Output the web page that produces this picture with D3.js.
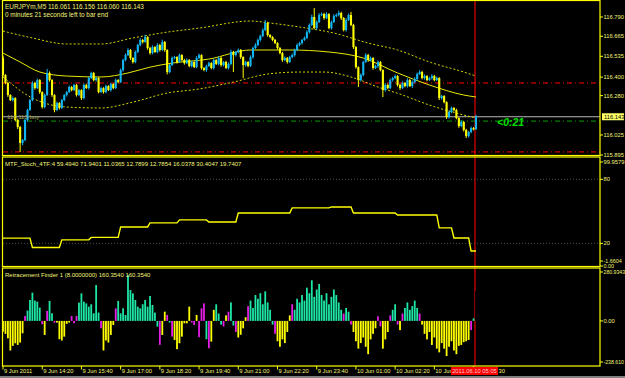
<!DOCTYPE html>
<html>
<head>
<meta charset="utf-8">
<script src="https://cdnjs.cloudflare.com/ajax/libs/d3/7.8.5/d3.min.js"></script>
<style>
  body { margin: 0; background: #808080; }
  svg { display: block; }
  text { font-family: 'Liberation Sans', Arial, sans-serif; }
</style>
</head>
<body>
<div id="chart"></div>
<script>
// EURJPYm M5 bars, 9 Jun 13:00 -> 10 Jun 05:05 (open of a bar = close of the previous one)
const firstOpen = 116.524;
const closes = [
  116.414,116.362,116.284,116.251,116.264,116.122,116.076,115.973,115.992,116.122,
  116.187,116.251,116.362,116.329,116.381,116.303,116.206,116.284,116.427,116.381,
  116.284,116.187,116.232,116.200,116.251,116.284,116.303,116.336,116.316,116.349,
  116.284,116.316,116.264,116.349,116.329,116.394,116.427,116.381,116.394,116.303,
  116.329,116.303,116.342,116.316,116.355,116.329,116.381,116.368,116.446,116.511,
  116.543,116.576,116.524,116.498,116.563,116.608,116.641,116.628,116.660,116.589,
  116.556,116.595,116.563,116.608,116.576,116.628,116.576,116.433,116.478,116.524,
  116.530,116.498,116.543,116.511,116.491,116.511,116.472,116.498,116.465,116.524,
  116.543,116.459,116.446,116.472,116.491,116.459,116.511,116.485,116.524,116.478,
  116.498,116.459,116.485,116.563,116.543,116.563,116.576,116.530,116.478,116.498,
  116.472,116.530,116.589,116.608,116.641,116.667,116.705,116.751,116.673,116.660,
  116.641,116.621,116.589,116.556,116.511,116.524,116.498,116.530,116.543,116.576,
  116.608,116.621,116.641,116.654,116.692,116.738,116.790,116.718,116.757,116.803,
  116.809,116.783,116.809,116.718,116.757,116.796,116.803,116.816,116.783,116.705,
  116.770,116.803,116.738,116.595,116.465,116.381,116.414,116.498,116.543,116.511,
  116.524,116.459,116.472,116.498,116.446,116.316,116.349,116.329,116.381,116.394,
  116.407,116.349,116.329,116.362,116.342,116.381,116.342,116.368,116.388,116.420,
  116.433,116.394,116.407,116.381,116.394,116.407,116.381,116.394,116.264,116.277,
  116.238,116.141,116.174,116.200,116.187,116.135,116.083,116.109,116.057,116.018,
  116.044,116.070,116.061,116.143
];
// wick lengths above / below the body, in 0.001 yen
const wickUp = [
  15,5,8,5,10,5,6,8,6,10, 8,6,12,8,10,6,5,8,26,10, 6,5,10,6,8,6,8,10,6,8,
  6,8,5,10,8,10,8,6,8,5, 8,6,10,6,8,5,10,6,10,8, 10,12,6,5,10,8,12,6,15,5,
  8,10,6,12,8,15,6,5,8,10, 8,6,10,6,8,10,6,8,5,12, 10,5,6,8,10,6,8,6,10,8,
  6,8,10,15,8,6,10,6,5,8, 6,10,8,12,10,8,12,20,8,6, 6,8,5,6,8,10,6,8,10,8,
  10,8,6,10,12,10,15,58,10,12, 10,8,12,6,10,12,10,15,8,6, 12,10,20,8,6,5,10,8,12,8,
  10,6,8,10,6,5,12,8,10,8, 10,6,8,10,6,12,8,10,12,10, 12,8,10,6,8,12,8,10,6,8,
  6,5,10,8,6,8,5,10,6,8, 8,10,6,13
];
const wickDn = [
  10,8,12,6,10,8,12,58,15,8, 10,6,8,10,6,12,10,8,6,10, 12,15,8,10,6,8,10,6,8,6,
  10,8,12,8,6,10,6,8,10,8, 6,10,8,6,10,8,6,8,6,10, 8,6,12,10,8,6,8,10,6,12,
  10,8,6,8,10,6,12,15,8,6, 8,10,6,8,10,6,8,10,6,8, 6,10,8,12,6,8,10,6,8,10,
  8,6,10,8,110,10,8,12,85,10, 8,6,10,8,6,10,8,6,10,8, 8,6,10,8,12,8,10,6,8,10,
  6,8,10,6,8,10,6,8,10,6, 8,10,6,8,10,6,8,10,12,8, 10,6,8,12,10,45,10,8,6,12,
  8,10,6,12,8,45,10,8,6,10, 8,10,12,6,8,10,6,12,8,10, 6,8,10,8,6,10,8,6,12,10,
  8,12,10,8,10,8,12,8,10,13, 10,8,6,1
];

// envelope around the moving average, sampled at bar indices
const bandBars  = [0, 7, 15, 26, 40, 51, 60, 69, 84, 101, 117, 133, 147, 161, 174, 188, 193];
const bandMid   = [116.556,116.498,116.433,116.407,116.401,116.427,116.465,116.491,116.517,116.576,116.576,116.563,116.524,116.427,116.349,116.284,116.271];
const upperBars = [0, 12, 26, 40, 53, 67, 80, 101, 109, 121, 135, 149, 161, 174, 188, 193];
const bandUpper = [116.699,116.654,116.615,116.615,116.654,116.692,116.718,116.764,116.751,116.725,116.686,116.621,116.576,116.498,116.433,116.407];
const lowerBars = [0, 12, 26, 40, 53, 67, 80, 94, 108, 121, 131, 142, 153, 162, 174, 188, 193];
const bandLower = [116.401,116.264,116.206,116.200,116.238,116.297,116.323,116.368,116.420,116.433,116.433,116.401,116.336,116.290,116.219,116.154,116.135];

// horizontal levels on the price pane
const redLevels = [116.362, 115.915];
const greenLevel = 116.115;
const bidPrice = 116.143;
const priceTicks = ['116.790', '116.665', '116.535', '116.400', '116.280', '116.025', '115.895'];

// MTF stochastic, vertices of the stepped line
const stochBars = [0,11,12,23,24,35,36,47,48,59,60,71,72,83,84,95,96,117,118,133,134,142,143,160,161,177,178,183,184,190,191,193];
const stochVals = [24.9,24.9,16.1,16.1,23.3,23.3,25.6,25.6,35.4,35.4,39.2,39.2,42,42,40,40,48.5,48.5,53.2,53.2,54.1,54.1,48.5,48.5,46.6,46.6,34.5,34.5,25.1,25.1,12.8,12.8];
const stochLevels = [80, 20];

// Retracement Finder histogram, one value per bar; g = rising, m = turn, y = falling
const retVals = [
  -58,-70,-94,-160,-135,-121,-130,-117,-67,27, 56,113,153,110,104,72,-18,-76,54,108,
  41,-9,-9,-99,-106,-85,-16,-9,27,-13, 27,99,149,104,95,77,90,41,194,45,
  -40,-160,-106,-117,-76,-22,68,108,41,68, 32,248,167,149,113,77,68,90,113,77,
  135,86,45,-31,-130,-76,50,32,-9,-85, -103,-153,-121,-85,-13,-13,77,-9,-22,32,
  -88,68,95,-99,-148,-112,60,90,40,-20, -30,30,50,100,-25,-60,-90,-75,-40,20,
  80,110,70,140,120,150,90,160,100,60, -20,-70,-110,-140,-100,-120,-60,30,90,60,
  120,100,140,110,180,150,220,130,170,200, 140,110,150,90,130,170,140,100,60,40,
  70,50,-20,-60,-110,-150,-120,-90,-140,-180, -100,-70,-40,25,-30,-150,-100,-60,30,60,
  90,-20,-50,40,70,100,60,80,110,70, 40,-20,-70,-100,-60,-130,-90,-150,-170,-120,
  -150,-190,-140,-110,-160,-180,-135,-130,-115,-110, -103,-50,14,162
];
const retKind =
  'yyyyyyyyymggggggmymggmyyyyyymmmgggggggggmyyyyymgggggggggggggggggmyymgmyyyyyyymmymmmgmyy' +
  'gggmymggmyyyymggggggggggmyyyyyymggggggggggggggggggggmggmyyyyyyyyyymmyyymggmymggggggmyyyyy' +
  'yyyyyyyyyyyyyyymg';

// time axis: the last two labels are mostly hidden under the cursor box, only their visible parts are kept
const timeLabels = ['9 Jun 2011', '9 Jun 14:20', '9 Jun 15:40', '9 Jun 17:00', '9 Jun 18:20', '9 Jun 19:40',
  '9 Jun 21:00', '9 Jun 22:20', '9 Jun 23:40', '10 Jun 01:00', '10 Jun 02:20', '10 Jun'];
const timeTickBars = [0, 16, 32, 48, 64, 80, 96, 112, 128, 144, 160, 176];
const cursorBar = 193;
const cursorTime = '2011.06.10 05:05';
const cursorTail = '30';

const width = 625;
const height = 378;
const fg = '#ffff00';
const textColor = '#f4f47a';
const bullColor = '#12b6f2';
const bearColor = '#ffff00';

const svg = d3.select('#chart').append('svg')
  .attr('width', width)
  .attr('height', height);

svg.append('rect')
  .attr('width', width)
  .attr('height', 376)
  .attr('fill', '#000');

// Scales, one per pane
const x = d3.scaleLinear().domain([0, 193]).range([3, 476]);
const yPrice = d3.scaleLinear().domain([115.895, 116.790]).range([155, 17]);
const yStoch = d3.scaleLinear().domain([-1.6604, 99.9579]).range([266.5, 158]);
const yRet = d3.scaleLinear().domain([-238.61, 280.9343]).range([365, 269]);

const panes = [
  {top: 0.5, bottom: 155.5},
  {top: 157, bottom: 266.5},
  {top: 268, bottom: 366}
];

const defs = svg.append('defs');
panes.forEach((p, k) => {
  defs.append('clipPath').attr('id', `clip${k}`)
    .append('rect')
    .attr('x', 3).attr('y', p.top + 0.5)
    .attr('width', 597).attr('height', p.bottom - p.top - 1);
});

// cursor line through every pane
svg.append('line')
  .attr('x1', x(cursorBar) - 1).attr('x2', x(cursorBar) - 1)
  .attr('y1', 0).attr('y2', 366)
  .attr('stroke', '#8a0000')
  .attr('stroke-width', 2);

// ---- price pane ----
const main = svg.append('g').attr('clip-path', 'url(#clip0)');

main.selectAll('.red-level')
  .data(redLevels)
  .enter()
  .append('line')
  .attr('x1', 3).attr('x2', 600)
  .attr('y1', d => yPrice(d)).attr('y2', d => yPrice(d))
  .attr('stroke', '#ff0000')
  .attr('stroke-dasharray', '5,3,1,3');

main.append('line')
  .attr('x1', 3).attr('x2', 600)
  .attr('y1', yPrice(greenLevel)).attr('y2', yPrice(greenLevel))
  .attr('stroke', '#00a000')
  .attr('stroke-dasharray', '5,3,1,3');

main.append('line')
  .attr('x1', 3).attr('x2', 600)
  .attr('y1', yPrice(bidPrice)).attr('y2', yPrice(bidPrice))
  .attr('stroke', '#b8b8b8');

const bandLine = (bars) => d3.line()
  .x((d, i) => x(bars[i]))
  .y(d => yPrice(d))
  .curve(d3.curveMonotoneX);

main.append('path')
  .attr('d', bandLine(upperBars)(bandUpper))
  .attr('fill', 'none').attr('stroke', '#d6d600')
  .attr('stroke-dasharray', '2,2');
main.append('path')
  .attr('d', bandLine(lowerBars)(bandLower))
  .attr('fill', 'none').attr('stroke', '#d6d600')
  .attr('stroke-dasharray', '2,2');
main.append('path')
  .attr('d', bandLine(bandBars)(bandMid))
  .attr('fill', 'none').attr('stroke', '#e8e800');

const candles = closes.map((c, i) => {
  const o = i === 0 ? firstOpen : closes[i - 1];
  return {
    i: i, o: o, c: c,
    h: Math.max(o, c) + wickUp[i] / 1000,
    l: Math.min(o, c) - wickDn[i] / 1000
  };
});

const candle = main.selectAll('.candle')
  .data(candles)
  .enter()
  .append('g')
  .attr('class', 'candle');

candle.append('line')
  .attr('x1', d => x(d.i)).attr('x2', d => x(d.i))
  .attr('y1', d => yPrice(d.h)).attr('y2', d => yPrice(d.l))
  .attr('stroke', d => d.c >= d.o ? bullColor : bearColor)
  .attr('stroke-width', 1);

candle.append('rect')
  .attr('x', d => x(d.i) - 1.05)
  .attr('width', 2.1)
  .attr('y', d => yPrice(Math.max(d.o, d.c)))
  .attr('height', d => Math.max(1, yPrice(Math.min(d.o, d.c)) - yPrice(Math.max(d.o, d.c))))
  .attr('fill', d => d.c >= d.o ? bullColor : bearColor);

svg.append('text')
  .attr('x', 5).attr('y', 9)
  .attr('font-size', 6.4).attr('fill', textColor)
  .text('EURJPYm,M5  116.061 116.156 116.060 116.143');
svg.append('text')
  .attr('x', 5).attr('y', 16.5)
  .attr('font-size', 6.4).attr('fill', textColor)
  .text('0 minutes 21 seconds left to bar end');

svg.append('text')
  .attr('x', 7).attr('y', yPrice(bidPrice) + 2)
  .attr('font-size', 6).attr('fill', '#a0a040')
  .text('116.115 buy');

svg.append('text')
  .attr('x', 497).attr('y', yPrice(greenLevel) + 5)
  .attr('font-size', 10.5).attr('font-weight', 'bold').attr('font-style', 'italic')
  .attr('fill', '#00e000')
  .text('<0:21');

// ---- stochastic pane ----
const stoch = svg.append('g').attr('clip-path', 'url(#clip1)');

stoch.selectAll('.level')
  .data(stochLevels)
  .enter()
  .append('line')
  .attr('x1', 3).attr('x2', 600)
  .attr('y1', d => yStoch(d)).attr('y2', d => yStoch(d))
  .attr('stroke', '#4a4a4a')
  .attr('stroke-dasharray', '1,2');

stoch.append('path')
  .attr('d', d3.line()
    .x((d, i) => x(stochBars[i]))
    .y(d => yStoch(d))(stochVals))
  .attr('fill', 'none')
  .attr('stroke', fg)
  .attr('stroke-width', 1.4);

svg.append('text')
  .attr('x', 5).attr('y', 166)
  .attr('font-size', 6).attr('fill', textColor)
  .text('MTF_Stoch_4TF:4 59.4940 71.9401 11.0365 12.7899 12.7854 16.0378 30.4047 19.7407');

// ---- retracement pane ----
const ret = svg.append('g').attr('clip-path', 'url(#clip2)');
const retColor = {g: '#1ee6a6', m: '#e41ee4', y: '#ffff00'};

ret.selectAll('.bar')
  .data(retVals)
  .enter()
  .append('rect')
  .attr('x', (d, i) => x(i) - 0.9)
  .attr('width', 1.8)
  .attr('y', d => yRet(Math.max(0, d)))
  .attr('height', d => Math.abs(yRet(d) - yRet(0)))
  .attr('fill', (d, i) => retColor[retKind[i]]);

svg.append('text')
  .attr('x', 5).attr('y', 276.5)
  .attr('font-size', 6).attr('fill', textColor)
  .text('Retracement Finder 1 (8.0000000) 160.3540 160.3540');

// ---- pane frames ----
panes.forEach(p => {
  svg.append('rect')
    .attr('x', 2.5).attr('y', p.top)
    .attr('width', 597.5).attr('height', p.bottom - p.top)
    .attr('fill', 'none')
    .attr('stroke', fg)
    .attr('stroke-width', 1.2);
});

// ---- right scales ----
const scaleText = (y, label, size) => {
  svg.append('line')
    .attr('x1', 600).attr('x2', 603)
    .attr('y1', y).attr('y2', y)
    .attr('stroke', fg);
  svg.append('text')
    .attr('x', 603.5).attr('y', y + 2)
    .attr('font-size', size || 5.8).attr('fill', textColor)
    .text(label);
};

priceTicks.forEach(t => scaleText(yPrice(+t), t));

svg.append('rect')
  .attr('x', 602).attr('y', yPrice(bidPrice) - 3.5)
  .attr('width', 22).attr('height', 7)
  .attr('fill', '#ffff66');
svg.append('text')
  .attr('x', 604).attr('y', yPrice(bidPrice) + 2)
  .attr('font-size', 5.8).attr('fill', '#000')
  .text('116.143');

scaleText(yStoch(99.9579) + 4, '99.9579');
stochLevels.forEach(v => scaleText(yStoch(v), String(v)));
scaleText(yStoch(-1.6604) - 5.5, '-1.6604', 5.4);
scaleText(yStoch(-1.6604) - 0.5, '0.00', 5.4);

scaleText(yRet(280.9343) + 3, '280.9343', 5.2);
scaleText(yRet(0), '0.00');
scaleText(yRet(-238.61) - 3, '-238.610', 5.2);

// ---- time axis ----
timeTickBars.forEach((b, k) => {
  svg.append('line')
    .attr('x1', x(b)).attr('x2', x(b))
    .attr('y1', 366).attr('y2', 369.5)
    .attr('stroke', fg);
  svg.append('text')
    .attr('x', x(b) + 1).attr('y', 373)
    .attr('font-size', 5.8).attr('fill', textColor)
    .text(timeLabels[k]);
});

// cursor time box on the axis
svg.append('line')
  .attr('x1', x(192)).attr('x2', x(192))
  .attr('y1', 366).attr('y2', 369.5)
  .attr('stroke', fg);
svg.append('rect')
  .attr('x', x(cursorBar) - 25).attr('y', 367)
  .attr('width', 47).attr('height', 8)
  .attr('fill', '#ff0000');
svg.append('text')
  .attr('x', x(cursorBar) - 1.5).attr('y', 373)
  .attr('text-anchor', 'middle')
  .attr('font-size', 5.8).attr('fill', '#ffd0d0')
  .text(cursorTime);
svg.append('text')
  .attr('x', x(cursorBar) + 22.5).attr('y', 373)
  .attr('font-size', 5.8).attr('fill', textColor)
  .text(cursorTail);
</script>
</body>
</html>
